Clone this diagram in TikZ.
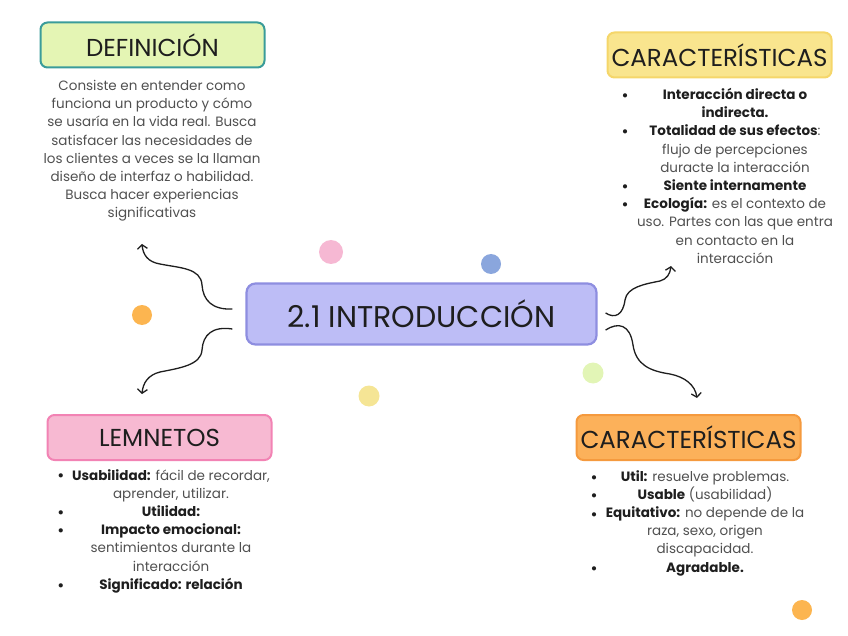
\documentclass[tikz,border=0pt]{standalone}
\usepackage{fontspec}
\setmainfont{Poppins}
\usetikzlibrary{arrows.meta}
\definecolor{txtgray}{HTML}{505050}
\definecolor{txtdark}{HTML}{1E1E1E}
\definecolor{greenfill}{HTML}{E4F5B4}
\definecolor{tealline}{HTML}{3A9C9A}
\definecolor{yellowfill}{HTML}{F9E58E}
\definecolor{yellowline}{HTML}{F5D66A}
\definecolor{purplefill}{HTML}{BDBDF6}
\definecolor{purpleline}{HTML}{8E8EE0}
\definecolor{pinkfill}{HTML}{F7B9D2}
\definecolor{pinkline}{HTML}{F283B4}
\definecolor{orangefill}{HTML}{FCB15A}
\definecolor{orangeline}{HTML}{F59A3E}
\definecolor{dotpink}{HTML}{F6B8D3}
\definecolor{dotblue}{HTML}{8AA6DD}
\definecolor{dotorange}{HTML}{FCB550}
\definecolor{dotgreen}{HTML}{E2F5B6}
\definecolor{dotyellow}{HTML}{F5E595}
\tikzset{
  heading/.style={draw, line width=2pt, rounded corners=7pt, minimum width=224pt, minimum height=45pt, inner sep=0pt, font=\fontsize{24.5}{28}\selectfont, text=txtdark},
  body/.style={align=center, inner sep=0pt, text=txtgray, font=\fontsize{13.5}{18.2}\selectfont},
  bul/.style={inner sep=0pt, text=txtdark, font=\fontsize{17}{18}\selectfont},
  link/.style={draw=txtdark, line width=1.3pt, -{Straight Barb[length=4pt,width=10pt]}},
  dot/.style={circle, inner sep=0pt, draw=none}
}
\newcommand{\bd}[1]{{\bfseries\color{txtdark}#1}}
\begin{document}
\begin{tikzpicture}[x=1pt, y=-1pt]
\useasboundingbox (0,0) rectangle (848,636);
% dots
\node[dot, fill=dotpink, minimum size=24pt] (d1) at (331,252) {};
\node[dot, fill=dotblue, minimum size=20pt] (d2) at (491,264) {};
\node[dot, fill=dotorange, minimum size=20pt] (d3) at (142,315) {};
\node[dot, fill=dotgreen, minimum size=21pt] (d4) at (593,373) {};
\node[dot, fill=dotyellow, minimum size=21pt] (d5) at (369,396) {};
\node[dot, fill=dotorange, minimum size=20pt] (d6) at (802,610) {};
% center
\node[draw=purpleline, fill=purplefill, line width=2.2pt, rounded corners=9pt, minimum width=350pt, minimum height=61pt, font=\fontsize{30}{34}\selectfont, text=txtdark] (c) at (421.5,314) {2.1 INTRODUCCIÓN};
% headings
\node[heading, draw=tealline, fill=greenfill] (def) at (152.5,45) {DEFINICIÓN};
\node[heading, draw=yellowline, fill=yellowfill] (car1) at (719.5,55) {CARACTERÍSTICAS};
\node[heading, draw=pinkline, fill=pinkfill] (lem) at (159.5,437.5) {LEMNETOS};
\node[heading, draw=orangeline, fill=orangefill] (car2) at (688.5,437.5) {CARACTERÍSTICAS};
% definition text
\node[body, anchor=north] (deftxt) at (152,80) {Consiste en entender como\\funciona un producto y cómo\\se usaría en la vida real. Busca\\satisfacer las necesidades de\\los clientes a veces se la llaman\\diseño de interfaz o habilidad.\\Busca hacer experiencias\\significativas};
% top right list
\node[body, anchor=north] (l1) at (735,88) {\bd{Interacción directa o}\\\bd{indirecta.}\\\bd{Totalidad de sus efectos}: \\flujo de percepciones\\duracte la interacción\\\bd{Siente internamente}\\\bd{Ecología:} es el contexto de\\uso. Partes con las que entra\\en contacto en la\\interacción};
\node[bul, anchor=center] (b11) at (625,98) {•};
\node[bul, anchor=center] (b12) at (625,134) {•};
\node[bul, anchor=center] (b13) at (625,189) {•};
\node[bul, anchor=center] (b14) at (625,207) {•};
% bottom left list
\node[body, anchor=north] (l2) at (171,469) {\bd{Usabilidad:} fácil de recordar,\\aprender, utilizar.\\\bd{Utilidad:}\\\bd{Impacto emocional:}\\sentimientos durante la\\interacción\\\bd{Significado: relación}};
\node[bul, anchor=center] (b21) at (61,478) {•};
\node[bul, anchor=center] (b22) at (61,515) {•};
\node[bul, anchor=center] (b23) at (61,533) {•};
\node[bul, anchor=center] (b24) at (61,588) {•};
% bottom right list
\node[body, anchor=north] (l3) at (705,470) {\bd{Util:} resuelve problemas.\\\bd{Usable} (usabilidad)\\\bd{Equitativo:} no depende de la\\raza, sexo, origen\\discapacidad.\\\bd{Agradable.}};
\node[bul, anchor=center] (b31) at (594,480) {•};
\node[bul, anchor=center] (b32) at (594,498) {•};
\node[bul, anchor=center] (b33) at (594,517) {•};
\node[bul, anchor=center] (b34) at (594,571) {•};
% connector ends
\coordinate (s1) at ([xshift=-13pt,yshift=5pt]c.west);
\coordinate (s2) at ([xshift=-13pt,yshift=-15pt]c.west);
\coordinate (s3) at ([xshift=8pt,yshift=1pt]c.east);
\coordinate (s4) at ([xshift=8pt,yshift=-16pt]c.east);
\coordinate (e1) at (142,244);
\coordinate (e2) at (142,394);
\coordinate (e3) at (671,266);
\coordinate (e4) at (697,398);
\draw[link] (s1) .. controls (212,310) and (203,300) .. (202,285) .. controls (201,268) and (180,268) .. (160,264) .. controls (148,262) and (143,255) .. (e1);
\draw[link] (s2) .. controls (212,326) and (203,335) .. (202,350) .. controls (201,365) and (180,368) .. (160,372) .. controls (148,375) and (143,383) .. (e2);
\draw[link] (s3) .. controls (615,319) and (623,315) .. (625,300) .. controls (627,287) and (645,284) .. (660,281) .. controls (667,279) and (670,274) .. (e3);
\draw[link] (s4) .. controls (618,322) and (630,324) .. (633,345) .. controls (636,365) and (650,371) .. (670,374) .. controls (685,377) and (695,385) .. (e4);
\end{tikzpicture}
\end{document}
